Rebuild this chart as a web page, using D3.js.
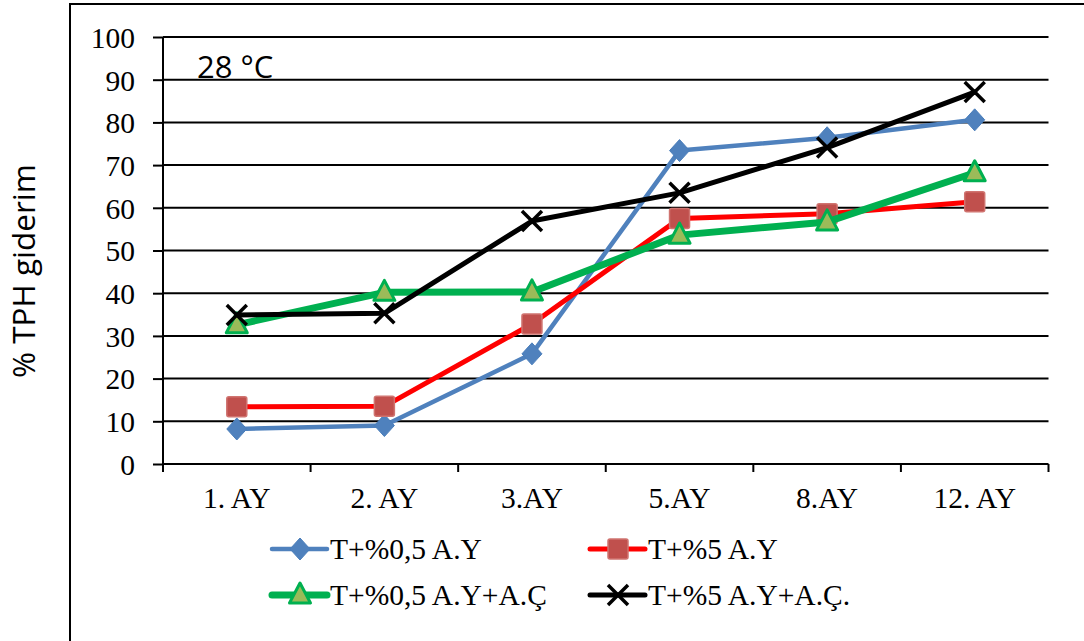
<!DOCTYPE html>
<html>
<head>
<meta charset="utf-8">
<script src="https://cdn.jsdelivr.net/npm/d3@7"></script>
<style>
  html, body { margin: 0; padding: 0; background: #fff; }
  svg { display: block; }
</style>
</head>
<body>
<svg id="chart" width="1084" height="641"></svg>
<script>
// Months of incubation
const categories = ["1. AY", "2. AY", "3.AY", "5.AY", "8.AY", "12. AY"];

// % TPH removal per treatment
const seriesNames = ["T+%0,5 A.Y", "T+%5 A.Y", "T+%0,5 A.Y+A.Ç", "T+%5 A.Y+A.Ç."];
const valuesLowAY     = [8.2, 9.0, 25.8, 73.4, 76.4, 80.6];
const valuesHighAY    = [13.4, 13.5, 32.8, 57.5, 58.6, 61.4];
const valuesLowAYAC   = [32.6, 40.2, 40.3, 53.6, 56.7, 68.2];
const valuesHighAYAC  = [34.9, 35.3, 56.9, 63.5, 74.1, 87.1];

const yTicks = [0, 10, 20, 30, 40, 50, 60, 70, 80, 90, 100];
const yTitle = "% TPH giderim";
const panelLabel = "28 °C";

const series = [
  { name: seriesNames[0], values: valuesLowAY,    line: "#4F81BD", width: 4.5, marker: "diamond" },
  { name: seriesNames[1], values: valuesHighAY,   line: "#FF0000", width: 5,   marker: "square" },
  { name: seriesNames[2], values: valuesLowAYAC,  line: "#00B050", width: 7,   marker: "triangle" },
  { name: seriesNames[3], values: valuesHighAYAC, line: "#000000", width: 5,   marker: "cross" }
];

const serif = "'Liberation Serif', 'Times New Roman', serif";
const sans = "'Open Sans', sans-serif";

const svg = d3.select("#chart");
const plotLeft = 163, plotRight = 1048.5, plotTop = 37, plotBottom = 464;

// outer frame (only top and left edges fall inside the canvas)
svg.append("rect")
  .attr("x", 70).attr("y", 4).attr("width", 1100).attr("height", 800)
  .attr("fill", "none").attr("stroke", "#000").attr("stroke-width", 2);

const x = d3.scaleBand().domain(categories).range([plotLeft, plotRight]).padding(0);
const y = d3.scaleLinear().domain([0, 100]).range([plotBottom, plotTop]);

// horizontal gridlines
svg.append("g")
  .selectAll("line")
  .data(yTicks.filter(d => d > 0))
  .join("line")
  .attr("x1", plotLeft).attr("x2", plotRight)
  .attr("y1", d => y(d)).attr("y2", d => y(d))
  .attr("stroke", "#000").attr("stroke-width", 2);

// y axis
const yAxis = svg.append("g")
  .attr("transform", `translate(${plotLeft},0)`)
  .call(d3.axisLeft(y).tickValues(yTicks).tickSize(10).tickPadding(18));
yAxis.attr("font-family", serif).attr("font-size", 29.5);
yAxis.select(".domain").attr("stroke", "#000").attr("stroke-width", 2)
  .attr("d", `M0,${plotTop}V${plotBottom + 8}`);
yAxis.selectAll(".tick line").attr("stroke", "#000").attr("stroke-width", 2);
yAxis.selectAll(".tick text")
  .attr("font-family", serif)
  .attr("font-size", 29.5).attr("fill", "#000").attr("dy", "0.35em");

// x axis with ticks between categories
const xAxis = svg.append("g").attr("transform", `translate(0,${plotBottom})`);
xAxis.append("line")
  .attr("x1", plotLeft).attr("x2", plotRight).attr("y1", 0).attr("y2", 0)
  .attr("stroke", "#000").attr("stroke-width", 2);
const bounds = categories.map(c => x(c)).concat([plotRight]);
xAxis.selectAll("line.tk")
  .data(bounds)
  .join("line").attr("class", "tk")
  .attr("x1", d => d).attr("x2", d => d).attr("y1", 0).attr("y2", 8)
  .attr("stroke", "#000").attr("stroke-width", 2);
xAxis.selectAll("text")
  .data(categories)
  .join("text")
  .attr("x", d => x(d) + x.bandwidth() / 2)
  .attr("y", 44)
  .attr("text-anchor", "middle")
  .attr("font-family", serif)
  .attr("font-size", 29.5).attr("fill", "#000")
  .text(d => d);

// y axis title
svg.append("text")
  .attr("transform", `translate(35,271) rotate(-90)`)
  .attr("text-anchor", "middle")
  .attr("font-family", sans)
  .attr("font-size", 31.5).attr("fill", "#000")
  .text(yTitle);

// temperature label
svg.append("text")
  .attr("x", 197).attr("y", 78)
  .attr("font-family", sans)
  .attr("font-size", 31).attr("fill", "#000")
  .text(panelLabel);

function drawMarker(g, type, cx, cy) {
  if (type === "diamond") {
    g.append("path")
      .attr("d", `M${cx},${cy - 11}L${cx + 10},${cy}L${cx},${cy + 11}L${cx - 10},${cy}Z`)
      .attr("fill", "#4F81BD").attr("stroke", "#4A7EBB").attr("stroke-width", 1);
  } else if (type === "square") {
    g.append("rect")
      .attr("x", cx - 10).attr("y", cy - 10).attr("width", 20).attr("height", 20)
      .attr("rx", 2)
      .attr("fill", "#C0504D").attr("stroke", "#D07470").attr("stroke-width", 1.5);
  } else if (type === "triangle") {
    g.append("path")
      .attr("d", `M${cx},${cy - 12}L${cx + 10.5},${cy + 8}L${cx - 10.5},${cy + 8}Z`)
      .attr("fill", "#9BBB59").attr("stroke", "#00B050").attr("stroke-width", 3)
      .attr("stroke-linejoin", "round");
  } else if (type === "cross") {
    g.append("path")
      .attr("d", `M${cx - 10},${cy - 10}L${cx + 10},${cy + 10}M${cx + 10},${cy - 10}L${cx - 10},${cy + 10}`)
      .attr("stroke", "#000").attr("stroke-width", 3.5);
  }
}

const line = d3.line()
  .x((d, i) => x(categories[i]) + x.bandwidth() / 2)
  .y(d => y(d));

series.forEach(s => {
  const g = svg.append("g");
  g.append("path")
    .attr("d", line(s.values))
    .attr("fill", "none").attr("stroke", s.line).attr("stroke-width", s.width)
    .attr("stroke-linejoin", "round").attr("stroke-linecap", "round");
  s.values.forEach((v, i) => {
    drawMarker(g, s.marker, x(categories[i]) + x.bandwidth() / 2, y(v));
  });
});

// legend, two columns by two rows
const legendPos = [
  { lx: 272, ly: 549 }, { lx: 590, ly: 549 },
  { lx: 272, ly: 595 }, { lx: 590, ly: 595 }
];
series.forEach((s, i) => {
  const p = legendPos[i];
  const g = svg.append("g");
  g.append("line")
    .attr("x1", p.lx).attr("x2", p.lx + 55).attr("y1", p.ly).attr("y2", p.ly)
    .attr("stroke", s.line).attr("stroke-width", s.width).attr("stroke-linecap", "round");
  drawMarker(g, s.marker, p.lx + 28, p.ly);
  g.append("text")
    .attr("x", p.lx + 58).attr("y", p.ly + 10)
    .attr("font-family", serif)
    .attr("font-size", 29.5).attr("fill", "#000")
    .text(s.name);
});
</script>
</body>
</html>
